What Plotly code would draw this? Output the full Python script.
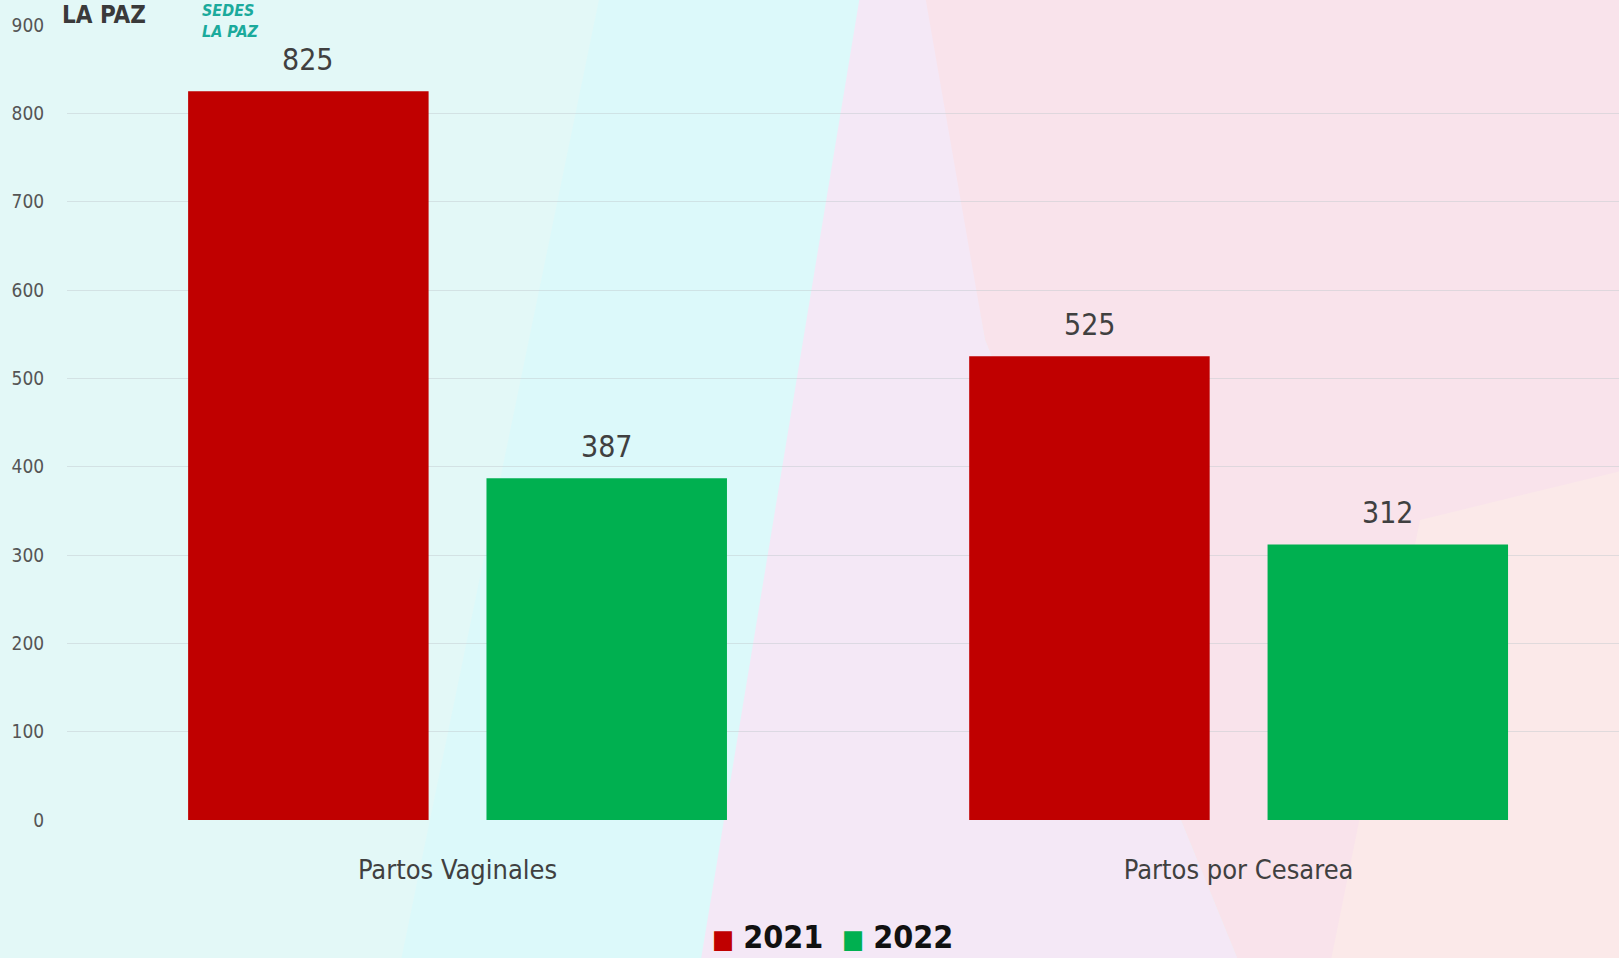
import plotly.graph_objects as go

categorias = ["Partos Vaginales", "Partos por Cesarea"]
anios = ["2021", "2022"]
valores_2021 = [825, 525]
valores_2022 = [387, 312]
colores = ["#C00000", "#00B050"]

W, H = 1619, 958
ML, MR, MT, MB = 67, 0, 25, 138
FONT = "DejaVu Sans Condensed, Lato, sans-serif"
BARGAP, GROUPGAP = 0.236, 0.194


def px(x, y):
    # pixel en la imagen -> coordenadas paper
    return (x - ML) / (W - ML - MR), (H - MB - y) / (H - MT - MB)


def poly(pts, color):
    path = ""
    for i, (x, y) in enumerate(pts):
        a, b = px(x, y)
        path += ("M" if i == 0 else "L") + f"{a:.4f},{b:.4f}"
    return dict(type="path", path=path + "Z", xref="paper", yref="paper",
                fillcolor=color, line=dict(width=0), layer="below")


fig = go.Figure()
anots = []
cat_px = 780.6  # ancho de una categoria en pixeles
for i, (anio, vals, col) in enumerate(zip(anios, [valores_2021, valores_2022], colores)):
    fig.add_trace(go.Bar(x=categorias, y=vals, name=anio, marker_color=col,
                         marker_line_width=0, showlegend=False))
    desplaz = (i - 0.5) * (1 - BARGAP) / 2 * cat_px
    for c, v in zip(categorias, vals):
        anots.append(dict(text=str(v), x=c, y=v, xref="x", yref="y", xshift=desplaz,
                          yshift=12, yanchor="bottom", showarrow=False,
                          font=dict(size=30, color="#404040", family=FONT)))

# fondo de triangulos pastel
shapes = [
    poly([(-5, -5), (620, -5), (420, 965), (-5, 965)], "#E3F8F7"),
    poly([(600, -5), (880, -5), (720, 965), (400, 965)], "#DCF9FA"),
    poly([(860, -5), (930, -5), (985, 340), (1240, 965), (700, 965)], "#F4E8F6"),
    poly([(925, -5), (1625, -5), (1625, 965), (1240, 965), (985, 340)], "#F9E3EB"),
    poly([(1420, 520), (1625, 470), (1625, 965), (1330, 965)], "#FBE9E9"),
]

logos = [
    dict(text="<b>LA PAZ</b>", x=px(60, 0)[0], y=px(0, 15)[1], xanchor="left", yanchor="middle",
         font=dict(size=24, color="#3A3A3A", family=FONT)),
    dict(text="<b><i>SEDES<br>LA PAZ</i></b>", x=px(200, 0)[0], y=px(0, 21)[1], xanchor="left",
         yanchor="middle", align="left", font=dict(size=16, color="#1BAA9C", family=FONT)),
]
leg_x = [767, 897]
for anio, col, lx in zip(anios, colores, leg_x):
    logos.append(dict(text=f'<span style="color:{col};font-size:26px">■</span> <b>{anio}</b>',
                      x=px(lx, 0)[0], y=px(0, 937)[1], xanchor="center", yanchor="middle",
                      font=dict(size=32, color="#111111", family=FONT)))
for a in logos:
    a.update(xref="paper", yref="paper", showarrow=False)

fig.update_layout(
    width=W, height=H,
    margin=dict(l=ML, r=MR, t=MT, b=MB),
    paper_bgcolor="#E4F8F8", plot_bgcolor="rgba(0,0,0,0)",
    barmode="group", bargap=BARGAP, bargroupgap=GROUPGAP,
    font=dict(family=FONT, color="#404040"),
    shapes=shapes, annotations=anots + logos,
)
fig.update_xaxes(type="category", range=[-0.5, 1.487], showgrid=False, zeroline=False,
                 showline=False, ticks="outside", ticklen=26, tickcolor="rgba(0,0,0,0)",
                 tickfont=dict(size=27, color="#404040", family=FONT))
fig.update_yaxes(range=[0, 900], dtick=100, showgrid=True, gridcolor="rgba(190,200,205,0.45)",
                 gridwidth=1, zeroline=False, showline=False, ticks="outside", ticklen=18,
                 tickcolor="rgba(0,0,0,0)", tickfont=dict(size=19, color="#555555", family=FONT))

fig.write_html("out.html", config={"displayModeBar": False},
               post_script="document.body.style.margin='0px';")
